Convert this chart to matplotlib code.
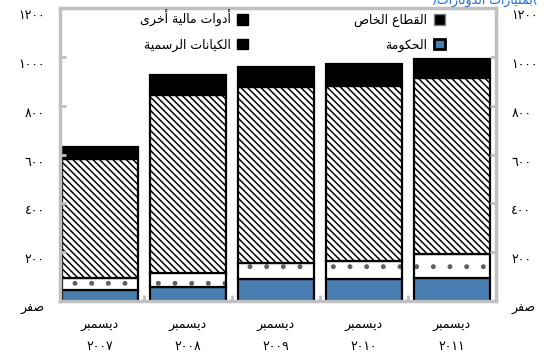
import numpy as np
import matplotlib
matplotlib.use("Agg")
import matplotlib.pyplot as plt
from matplotlib.patches import Patch
from matplotlib.transforms import ScaledTranslation

plt.rcParams["font.family"] = ["DejaVu Sans"]
plt.rcParams["hatch.linewidth"] = 1.1

# Arabic letters -> (isolated, final, initial, medial) presentation forms
FORMS = {
    "ا": ("\uFE8D", "\uFE8E", None, None),
    "أ": ("\uFE83", "\uFE84", None, None),
    "ب": ("\uFE8F", "\uFE90", "\uFE91", "\uFE92"),
    "ة": ("\uFE93", "\uFE94", None, None),
    "ت": ("\uFE95", "\uFE96", "\uFE97", "\uFE98"),
    "ح": ("\uFEA1", "\uFEA2", "\uFEA3", "\uFEA4"),
    "خ": ("\uFEA5", "\uFEA6", "\uFEA7", "\uFEA8"),
    "د": ("\uFEA9", "\uFEAA", None, None),
    "ر": ("\uFEAD", "\uFEAE", None, None),
    "س": ("\uFEB1", "\uFEB2", "\uFEB3", "\uFEB4"),
    "ص": ("\uFEB9", "\uFEBA", "\uFEBB", "\uFEBC"),
    "ط": ("\uFEC1", "\uFEC2", "\uFEC3", "\uFEC4"),
    "ع": ("\uFEC9", "\uFECA", "\uFECB", "\uFECC"),
    "ف": ("\uFED1", "\uFED2", "\uFED3", "\uFED4"),
    "ق": ("\uFED5", "\uFED6", "\uFED7", "\uFED8"),
    "ك": ("\uFED9", "\uFEDA", "\uFEDB", "\uFEDC"),
    "ل": ("\uFEDD", "\uFEDE", "\uFEDF", "\uFEE0"),
    "م": ("\uFEE1", "\uFEE2", "\uFEE3", "\uFEE4"),
    "ن": ("\uFEE5", "\uFEE6", "\uFEE7", "\uFEE8"),
    "و": ("\uFEED", "\uFEEE", None, None),
    "ى": ("\uFEEF", "\uFEF0", None, None),
    "ي": ("\uFEF1", "\uFEF2", "\uFEF3", "\uFEF4"),
}


def ar(s):
    out = []
    for i, c in enumerate(s):
        if c not in FORMS:
            out.append(c)
            continue
        prev = s[i - 1] if i > 0 else ""
        nxt = s[i + 1] if i + 1 < len(s) else ""
        jp = prev in FORMS and FORMS[prev][2] is not None
        jn = nxt in FORMS and FORMS[c][2] is not None
        iso, fin, ini, med = FORMS[c]
        out.append(med if jp and jn else fin if jp else ini if jn else iso)
    return "".join(reversed(out))


def ind(n):
    return str(n).translate(str.maketrans("0123456789", "٠١٢٣٤٥٦٧٨٩"))


# data (billions)
years = [2007, 2008, 2009, 2010, 2011]
government = [45, 57, 90, 90, 94]
official = [49, 58, 66, 74, 99]
private = [488, 730, 722, 718, 721]
other = [49, 82, 82, 90, 78]

yticks = [0, 200, 400, 600, 800, 1000, 1200]
ytick_labels = [ar("صفر")] + [ind(v) for v in yticks[1:]]
xtick_labels = [ar("ديسمبر") + "\n" + ind(y) for y in years]

blue = "#4a7db0"
gray = "#c0c0c0"

fig = plt.figure(figsize=(5.52, 3.53), dpi=100)
ax = fig.add_axes([60 / 552, 1 - 301 / 353, 436 / 552, 293 / 353])

x = np.arange(len(years))
w = 0.86
b0 = np.zeros(len(years))
ax.bar(x, government, w, bottom=b0, color=blue, edgecolor="black", lw=1.6)
b1 = b0 + government
# dotted fill first (lighter hatch colour), black outline on top
ax.bar(x, official, w, bottom=b1, color="white", edgecolor="#606060", lw=0, hatch=".")
ax.bar(x, official, w, bottom=b1, fill=False, edgecolor="black", lw=1.6)
b2 = b1 + official
ax.bar(x, private, w, bottom=b2, color="white", edgecolor="black", lw=1.6,
       hatch="\\" * 5)
b3 = b2 + private
ax.bar(x, other, w, bottom=b3, color="black", edgecolor="black", lw=1.6)

ax.set_xlim(-0.455, 4.5)
ax.set_ylim(0, 1200)
for s in ax.spines.values():
    s.set_color(gray)
    s.set_linewidth(2.5)

ax.set_yticks(yticks)
ax.set_yticklabels(ytick_labels)
ax.tick_params(axis="y", which="major", direction="in", length=4, width=2, color=gray,
               labelsize=9, pad=11, left=True, right=True, labelleft=True, labelright=True)
ax.set_xticks(x[:-1] + 0.5)
ax.set_xticklabels([""] * 4)
ax.set_xticks(x, minor=True)
ax.set_xticklabels(xtick_labels, minor=True)
ax.tick_params(axis="x", which="major", direction="in", length=4, width=2, color=gray)
ax.tick_params(axis="x", which="minor", length=0, labelsize=9, pad=12)
for lbl in ax.get_xticklabels(minor=True):
    lbl.set_linespacing(1.9)

off = ScaledTranslation(0, -6 / 100, fig.dpi_scale_trans)
for t in ax.yaxis.get_major_ticks():
    t.label1.set_transform(t.label1.get_transform() + off)
    t.label2.set_transform(t.label2.get_transform() + off)

handles = [
    Patch(facecolor="black", edgecolor="black", label=ar("أدوات مالية أخرى")),
    Patch(facecolor="black", edgecolor="black", label=ar("الكيانات الرسمية")),
    Patch(facecolor="black", edgecolor="#808080", lw=1, label=ar("القطاع الخاص")),
    Patch(facecolor=blue, edgecolor="black", lw=2, label=ar("الحكومة")),
]
fig.legend(handles=handles, ncol=2, markerfirst=False, frameon=False,
           loc="upper right", bbox_to_anchor=(445 / 552, 1 - 10 / 353),
           fontsize=9, handlelength=0.9, handleheight=0.9, handletextpad=0.5,
           columnspacing=8.5, labelspacing=0.9, borderpad=0, borderaxespad=0)

fig.text(485 / 552, 1.0, ar("(بمليارات الدولارات)"), color="#1f6fd0", fontsize=9,
         ha="center", va="center")

fig.savefig("out.png", dpi=100)
